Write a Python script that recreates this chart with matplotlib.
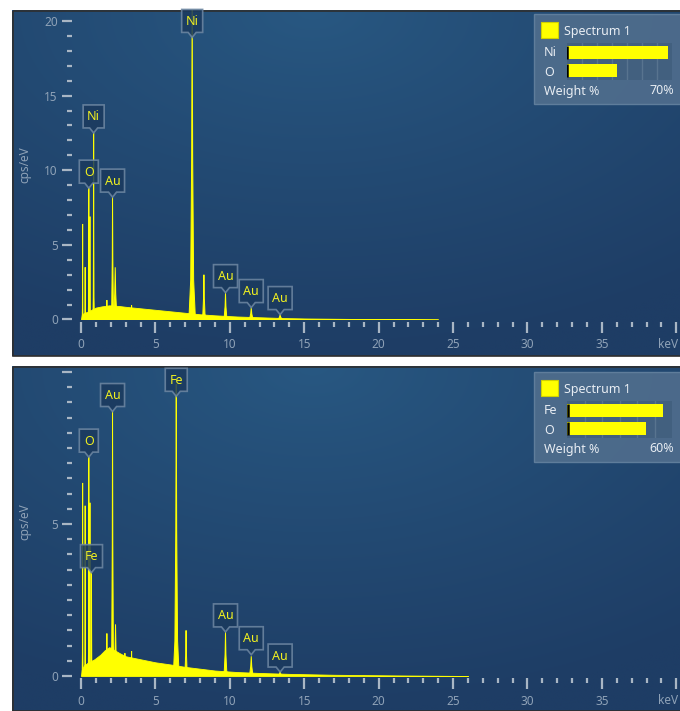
import numpy as np
import matplotlib
matplotlib.use('Agg')
import matplotlib.pyplot as plt
import matplotlib.transforms as mtransforms
from matplotlib.patches import Polygon, Rectangle
from matplotlib.ticker import MultipleLocator

plt.rcParams['font.family'] = ['Noto Sans', 'DejaVu Sans']

W, H = 680, 711

# ---------------- data ----------------
# Panel 1 : Ni / O / Au spectrum
bg1_kev = [0.0, 0.05, 0.2, 0.4, 0.7, 1.0, 1.4, 1.9, 2.6, 3.0, 4.0, 5.0, 6.0, 7.0,
           8.0, 9.0, 10.5, 12.0, 13.5, 15.0, 18.0, 21.0, 24.0]
bg1_cps = [0.0, 0.3, 0.45, 0.5, 0.65, 0.8, 0.88, 0.95, 0.9, 0.85, 0.75, 0.65, 0.55, 0.45,
           0.35, 0.28, 0.2, 0.15, 0.1, 0.07, 0.04, 0.02, 0.0]
pk1_kev = [0.11, 0.28, 0.525, 0.60, 0.85, 1.74, 2.12, 2.30, 3.40, 7.47, 8.26, 9.71, 11.44, 13.38]
pk1_cps = [6.4, 3.5, 8.8, 6.9, 12.5, 1.3, 8.2, 3.5, 0.95, 22.0, 3.0, 1.8, 0.8, 0.33]
pk1_wid = [0.03, 0.03, 0.04, 0.04, 0.05, 0.08, 0.12, 0.22, 0.1, 0.22, 0.16, 0.18, 0.22, 0.25]
lab1_txt = ['O', 'Ni', 'Au', 'Ni', 'Au', 'Au', 'Au']
lab1_kev = [0.525, 0.85, 2.12, 7.47, 9.71, 11.44, 13.38]
lab1_cps = [8.8, 12.5, 8.2, 18.9, 1.8, 0.8, 0.33]
leg1_el = ['Ni', 'O']
leg1_wt = [67, 33]
leg1_max = 70

# Panel 2 : Fe / O / Au spectrum
bg2_kev = [0.0, 0.05, 0.2, 0.5, 0.9, 1.3, 1.6, 1.9, 2.6, 3.0, 4.0, 5.0, 6.0, 7.0,
           8.0, 9.0, 10.5, 12.0, 14.0, 17.0, 21.0, 26.0]
bg2_cps = [0.0, 0.2, 0.35, 0.45, 0.55, 0.7, 0.85, 0.95, 0.75, 0.65, 0.55, 0.45, 0.38, 0.3,
           0.24, 0.18, 0.13, 0.1, 0.07, 0.04, 0.02, 0.0]
pk2_kev = [0.11, 0.28, 0.525, 0.60, 0.705, 1.74, 2.12, 2.32, 2.95, 3.40, 6.40, 7.06, 9.71, 11.44, 13.38]
pk2_cps = [6.35, 5.6, 7.2, 5.7, 3.4, 1.4, 8.7, 1.7, 0.75, 0.82, 9.6, 1.5, 1.45, 0.65, 0.15]
pk2_wid = [0.03, 0.03, 0.04, 0.04, 0.04, 0.08, 0.12, 0.22, 0.08, 0.1, 0.2, 0.15, 0.18, 0.22, 0.25]
lab2_txt = ['O', 'Fe', 'Au', 'Fe', 'Au', 'Au', 'Au']
lab2_kev = [0.525, 0.705, 2.12, 6.40, 9.71, 11.44, 13.38]
lab2_cps = [7.2, 3.4, 8.7, 9.2, 1.45, 0.7, 0.13]
leg2_el = ['Fe', 'O']
leg2_wt = [55, 45]
leg2_max = 60

x_ticks = [0, 5, 10, 15, 20, 25, 30, 35, 40]
x_ticklabels = ['0', '5', '10', '15', '20', '25', '30', '35', '']
x_unit = 'keV'

# ---------------- styles ----------------
YEL = '#ffff00'
TICK_C = '#a9b6c4'
LAB_C = '#8fa2b7'
LEG_TXT = '#e8edf3'

fig = plt.figure(figsize=(W / 100, H / 100), dpi=100)
fig.patch.set_facecolor('white')

bgax = fig.add_axes([0, 0, 1, 1], zorder=0)
bgax.axis('off')


def panel_bg(y0, y1, x0=12, x1=680):
    ny, nx = 200, 400
    yy, xx = np.mgrid[0:1:ny * 1j, 0:1:nx * 1j]
    d = np.sqrt(((xx - 0.45) * 1.15) ** 2 + (yy * 1.05) ** 2)
    d = np.clip(d / 1.05, 0, 1) ** 0.9
    c0 = np.array([40, 88, 130]) / 255
    c1 = np.array([30, 61, 101]) / 255
    img = c0 * (1 - d[..., None]) + c1 * d[..., None]
    bgax.imshow(img, extent=(x0, x1, y1, y0), aspect='auto', zorder=0,
                interpolation='bilinear')
    bgax.add_patch(Rectangle((x0 + 0.5, y0 + 0.5), x1 - x0 + 2, y1 - y0 - 1,
                             fill=False, ec='#2e2e2e', lw=1.2, zorder=1))


panel_bg(10, 356)
panel_bg(366, 711)
bgax.set_xlim(0, W)
bgax.set_ylim(H, 0)


def px_axes(left, top, right, bottom, z=2):
    return fig.add_axes([left / W, 1 - bottom / H, (right - left) / W, (bottom - top) / H],
                        zorder=z)


def draw_label(ax, x, y, txt):
    w = {'Au': 24, 'Ni': 21, 'Fe': 22, 'O': 19}.get(txt, 22)
    h, ph, pw = 23, 5, 4
    trans = mtransforms.IdentityTransform() + mtransforms.ScaledTranslation(x, y, ax.transData)
    pts = [(0, 0), (-pw, ph), (-w / 2, ph), (-w / 2, ph + h), (w / 2, ph + h),
           (w / 2, ph), (pw, ph)]
    ax.add_patch(Polygon(pts, closed=True, transform=trans, fc='#1b3a5e', ec='#6f88a3',
                         lw=1.2, alpha=0.85, clip_on=False, zorder=6))
    ax.text(0, ph + h / 2 - 0.5, txt, transform=trans, ha='center', va='center',
            color='#f0f020', fontsize=9, clip_on=False, zorder=7)


def draw_spectrum(ax, bg_kev, bg_cps, pk_kev, pk_cps, pk_wid):
    ax.fill_between(bg_kev, bg_cps, 0, color=YEL, lw=0.6, zorder=3)
    fx = np.array([-1, -0.45, -0.15, 0, 0.15, 0.45, 1])
    fy = np.array([0, 0.12, 0.5, 1, 0.5, 0.12, 0])
    for e, hgt, wd in zip(pk_kev, pk_cps, pk_wid):
        ax.fill(e + wd * fx, hgt * fy, fc=YEL, ec=YEL, lw=0.7, zorder=3)


def style_axes(ax, ymax, ymajor, yminor, ylabels):
    ax.set_xlim(-0.067, 40.25)
    ax.set_ylim(0, ymax)
    ax.patch.set_visible(False)
    for s in ['top', 'right']:
        ax.spines[s].set_visible(False)
    ax.spines['left'].set_position(('outward', 5.8))
    ax.spines['bottom'].set_position(('outward', 1.6))
    ax.spines['left'].set_visible(False)
    ax.spines['bottom'].set_visible(False)
    ax.set_xticks(x_ticks)
    ax.set_xticklabels(x_ticklabels)
    ax.xaxis.set_minor_locator(MultipleLocator(1))
    yt = np.arange(0, ymax + 1e-6, ymajor)
    ax.set_yticks(yt)
    ax.set_yticklabels(ylabels)
    ax.yaxis.set_minor_locator(MultipleLocator(yminor))
    ax.tick_params(axis='both', which='both', colors=TICK_C, labelcolor=LAB_C,
                   labelsize=8.5)
    ax.tick_params(axis='y', which='major', length=7.2, width=1.6, pad=3)
    ax.tick_params(axis='y', which='minor', length=3.6, width=1.6)
    ax.tick_params(axis='x', which='major', length=8, width=1.6, pad=4)
    ax.tick_params(axis='x', which='minor', length=3.6, width=1.6)


def draw_legend(ov, top, el, wt, wmax):
    ov.add_patch(Rectangle((534, top), 150, 90, fc='#4e6c8c', ec='#62809d', lw=1,
                           alpha=0.95, zorder=1))
    ov.add_patch(Rectangle((541, top + 8), 17, 16, fc=YEL, ec='#d0d000', lw=0.8, zorder=2))
    ov.text(564, top + 17, 'Spectrum 1', color=LEG_TXT, fontsize=9, va='center', zorder=3)
    ov.text(544, top + 39, el[0], color=LEG_TXT, fontsize=9, va='center', zorder=3)
    ov.text(544, top + 58, el[1], color=LEG_TXT, fontsize=9, va='center', zorder=3)
    ov.text(544, top + 77, 'Weight %', color=LEG_TXT, fontsize=9, va='center', zorder=3)
    ov.text(674, top + 77, '%d%%' % wmax, color=LEG_TXT, fontsize=9, va='center',
            ha='right', zorder=3)
    bax = px_axes(567, top + 29, 672, top + 66, z=6)
    bax.set_xlim(0, wmax)
    bax.set_ylim(1.5, -0.5)
    bax.set_facecolor('#42607f')
    for v in range(10, wmax, 10):
        bax.axvline(v, color='#58748f', lw=1, zorder=1)
    bax.barh([0, 1], wt, height=0.72, left=0, color=YEL, zorder=2)
    bax.vlines([0.3, 0.3], [-0.36, 0.64], [0.36, 1.36], color='black', lw=1.8, zorder=3)
    bax.set_xticks([])
    bax.set_yticks([])
    for s in bax.spines.values():
        s.set_visible(False)


# ---------------- top panel ----------------
ax1 = px_axes(80, 10, 680, 319.5)
draw_spectrum(ax1, bg1_kev, bg1_cps, pk1_kev, pk1_cps, pk1_wid)
style_axes(ax1, (319.5 - 10) / 14.925, 5, 1, ['0', '5', '10', '15', '20'])
for t, x, y in zip(lab1_txt, lab1_kev, lab1_cps):
    draw_label(ax1, x, y, t)

# ---------------- bottom panel ----------------
ax2 = px_axes(80, 366, 680, 676)
draw_spectrum(ax2, bg2_kev, bg2_cps, pk2_kev, pk2_cps, pk2_wid)
style_axes(ax2, (676 - 366) / 30.4, 5, 0.5, ['0', '5', ''])
for t, x, y in zip(lab2_txt, lab2_kev, lab2_cps):
    draw_label(ax2, x, y, t)

# ---------------- overlay (legends, y labels, unit) ----------------
ov = fig.add_axes([0, 0, 1, 1], zorder=5)
ov.set_xlim(0, W)
ov.set_ylim(H, 0)
ov.axis('off')
ov.patch.set_visible(False)
draw_legend(ov, 14, leg1_el, leg1_wt, leg1_max)
draw_legend(ov, 372, leg2_el, leg2_wt, leg2_max)
ov.text(25, 165, 'cps/eV', rotation=90, ha='center', va='center', color=LAB_C, fontsize=8.5)
ov.text(25, 522, 'cps/eV', rotation=90, ha='center', va='center', color=LAB_C, fontsize=8.5)
ov.text(678, 345, x_unit, ha='right', va='center', color=LAB_C, fontsize=8.5)
ov.text(678, 701, x_unit, ha='right', va='center', color=LAB_C, fontsize=8.5)

fig.savefig('out.png', dpi=100, facecolor='white')
